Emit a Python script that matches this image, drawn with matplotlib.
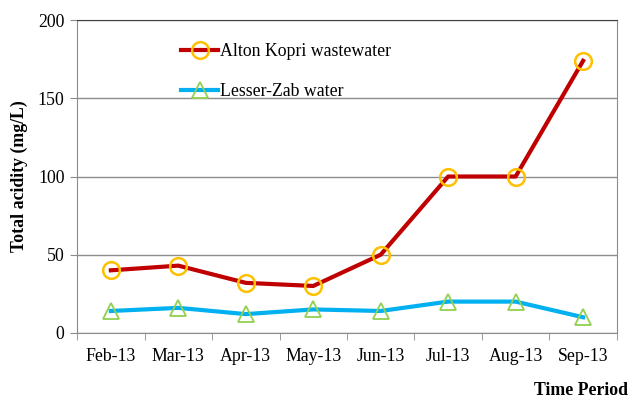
import matplotlib.pyplot as plt

plt.rcParams['font.family'] = ['Liberation Serif', 'DejaVu Serif']

months = ['Feb-13', 'Mar-13', 'Apr-13', 'May-13', 'Jun-13', 'Jul-13', 'Aug-13', 'Sep-13']
alton = [40, 43, 32, 30, 50, 100, 100, 174]
lesser = [14, 16, 12, 15, 14, 20, 20, 10]

fig = plt.figure(figsize=(6.32, 4.03), dpi=100)
ax = fig.add_axes([0.122, 0.174, 0.854, 0.776])

x = list(range(len(months)))
ax.plot(x, alton, color='#C00000', lw=3, marker='o', ms=12, mfc='none',
        mec='#FFC000', mew=1.8, label='Alton Kopri wastewater', zorder=3)
ax.plot(x, lesser, color='#00B0F0', lw=3, marker='^', ms=12, mfc='none',
        mec='#92D050', mew=1.3, label='Lesser-Zab water', zorder=3)

ax.set_xlim(-0.5, 7.5)
ax.set_ylim(0, 200)
ax.set_yticks([0, 50, 100, 150, 200])
ax.yaxis.grid(True, color='#8c8c8c', lw=1)
ax.set_axisbelow(True)

ax.set_xticks(x)
ax.set_xticklabels(months, fontsize=12.8)
ax.tick_params(axis='x', which='major', length=0, pad=11)
ax.set_xticks([i - 0.5 for i in range(len(months) + 1)], minor=True)
ax.tick_params(axis='x', which='minor', length=5, color='#8c8c8c', direction='out')
ax.tick_params(axis='y', labelsize=12.8, length=5, color='#8c8c8c', direction='out', pad=4)

for s in ['left', 'bottom', 'right']:
    ax.spines[s].set_color('#8c8c8c')
ax.spines['top'].set_color('#404040')

ax.set_ylabel('Total acidity (mg/L)', fontsize=12.8, fontweight='bold', labelpad=7)
fig.text(0.993, 0.02, 'Time Period', fontsize=12.8, fontweight='bold', ha='right')

ax.legend(loc='upper left', bbox_to_anchor=(0.176, 0.955), frameon=False,
          fontsize=12.8, handlelength=2.1, handletextpad=0.1, labelspacing=1.3,
          borderpad=0)

fig.savefig('out.png', dpi=100)
